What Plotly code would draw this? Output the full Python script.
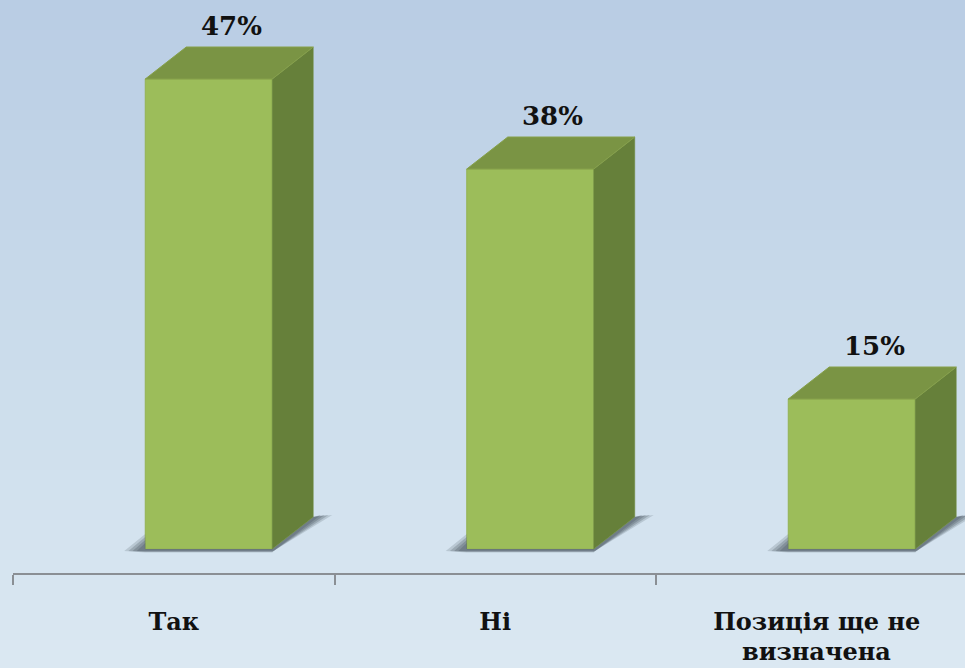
import plotly.graph_objects as go

categories = ["Так", "Ні", "Позиція ще не"]
second_line = ["", "", "визначена"]
values = [47, 38, 15]
value_labels = ["47%", "38%", "15%"]
boundaries = [-0.5, 0.5, 1.5]

PX_X = 321.5   # px per category
PX_Y = 10.0    # px per percent
BAR_SHIFT = 35 / PX_X
BAR_W = 127 / PX_X
DX = 41 / PX_X
DY = 32 / PX_Y
FONT = "DejaVu Serif"

fig = go.Figure()

# background gradient
top_c, mid_c, bot_c = (185, 205, 228), (205, 222, 236), (219, 232, 242)
N = 67
shapes = []
for k in range(N):
    t = k / (N - 1)
    if t < 0.6:
        u = t / 0.6
        c = [round(a + (b - a) * u) for a, b in zip(top_c, mid_c)]
    else:
        u = (t - 0.6) / 0.4
        c = [round(a + (b - a) * u) for a, b in zip(mid_c, bot_c)]
    shapes.append(dict(type="rect", xref="paper", yref="paper", x0=-0.02, x1=1.02,
                       y0=(573 - (k + 1) * 10) / 573 - 0.002,
                       y1=(573 - k * 10) / 573,
                       fillcolor=f"rgb({c[0]},{c[1]},{c[2]})", line_width=0, layer="below"))

for i, v in enumerate(values):
    x0 = i + BAR_SHIFT - BAR_W / 2
    x1 = x0 + BAR_W
    # ground shadow
    for sc, op in ((1.0, 0.22), (0.8, 0.3), (0.6, 0.35), (0.4, 0.4)):
        fig.add_trace(go.Scatter(
            x=[x0 - 21 * sc / PX_X, x0, x0, x1, x1 + DX, x1 + DX + 19 * sc / PX_X, x1 + 2 / PX_X, x1, x0],
            y=[-0.2, 1.5 * sc, 0, 0, DY, DY + 0.2, -0.15, -0.1 - 0.25 * sc, -0.1 - 0.25 * sc],
            mode="lines", fill="toself", fillcolor=f"rgba(85,98,110,{op})",
            line=dict(width=0), hoverinfo="skip", showlegend=False))
    # side face
    fig.add_trace(go.Scatter(
        x=[x1, x1 + DX, x1 + DX, x1, x1], y=[0, DY, v + DY, v, 0],
        mode="lines", fill="toself", fillcolor="#66803a",
        line=dict(width=0.5, color="#6f8a3e"), hoverinfo="skip", showlegend=False))
    # top face
    fig.add_trace(go.Scatter(
        x=[x0, x1, x1 + DX, x0 + DX, x0], y=[v, v, v + DY, v + DY, v],
        mode="lines", fill="toself", fillcolor="#7a9444",
        line=dict(width=1, color="#86a04a"), hoverinfo="skip", showlegend=False))

# front faces
fig.add_trace(go.Bar(
    x=[i + BAR_SHIFT for i in range(len(values))], y=values, width=BAR_W,
    marker=dict(color="#9cbd5a", line=dict(color="#94b354", width=1)),
    showlegend=False))

# value labels
for i, (v, lab) in enumerate(zip(values, value_labels)):
    fig.add_annotation(x=i + BAR_SHIFT + DX / 2 + 2 / PX_X, y=v + 5.3, text=f"<b>{lab}</b>",
                       showarrow=False, font=dict(family=FONT, size=26, color="#111111"))

# second line of wrapped category label
for i, t in enumerate(second_line):
    if t:
        fig.add_annotation(x=i, xref="x", y=(573 - 651) / 573, yref="paper", text=f"<b>{t}</b>",
                           yanchor="middle", showarrow=False,
                           font=dict(family=FONT, size=24, color="#111111"))

fig.update_layout(
    width=965, height=668, margin=dict(l=13, r=0, t=0, b=95),
    paper_bgcolor="#d5e3ef", plot_bgcolor="rgba(0,0,0,0)",
    shapes=shapes, autosize=False, showlegend=False,
    xaxis=dict(range=[-0.5, -0.5 + 952 / PX_X], tickmode="array",
               tickvals=list(range(len(categories))),
               ticktext=[f"<b>{c}</b>" for c in categories],
               ticks="", ticklabelstandoff=26, showgrid=False, zeroline=False,
               showline=True, linecolor="#8a8f94", linewidth=2,
               tickfont=dict(family=FONT, size=24, color="#111111"),
               minor=dict(tickmode="array", tickvals=boundaries, ticks="outside",
                          ticklen=10, tickwidth=2, tickcolor="#8a8f94", showgrid=False)),
    yaxis=dict(range=[-2.4, 54.9], visible=False, fixedrange=True),
)
fig.write_html("out.html", config={"displayModeBar": False},
               post_script="document.body.style.margin='0';document.body.style.overflow='hidden';")
